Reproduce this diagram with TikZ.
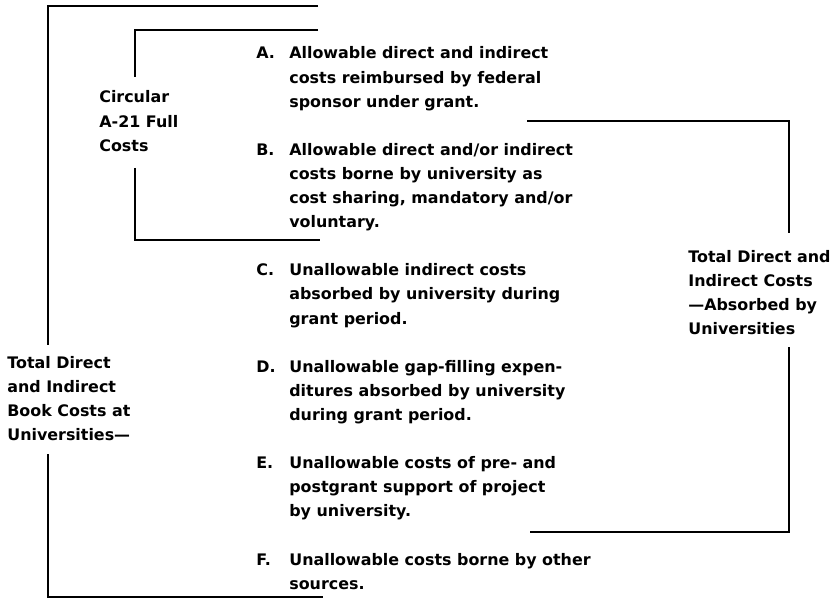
\documentclass[tikz,border=0pt]{standalone}
\usepackage{fontspec}
\setmainfont{DejaVu Sans}
\newcommand{\stack}[1]{\begin{tabular}[t]{@{}l@{}}#1\end{tabular}}

\begin{document}
\begin{tikzpicture}[x=0.02cm, y=-0.02cm, font=\fontsize{9.05}{13.7}\selectfont\bfseries]
    \tikzset{bracket/.style={line width=1.5pt},
             txt/.style={anchor=base west, inner sep=0pt}}
    \useasboundingbox (0,0) rectangle (839,608);

    % Outer bracket: book costs
    \draw[bracket] (318,6) -- (48,6) -- (48,345);
    \draw[bracket] (48,454) -- (48,597) -- (323,597);
    \node (book) [txt] at (7,368) {\stack{Total Direct\\and Indirect\\Book Costs at\\Universities—}};

    % Inner bracket: A-21 costs
    \draw[bracket] (318,30) -- (135,30) -- (135,77);
    \draw[bracket] (135,168) -- (135,240) -- (320,240);
    \node (circ) [txt] at (99,103) {\stack{Circular\\A-21 Full\\Costs}};

    % Right bracket: absorbed costs
    \draw[bracket] (527,121) -- (789,121) -- (789,233);
    \draw[bracket] (789,347) -- (789,532) -- (530,532);
    \node (absorb) [txt] at (688,262) {\stack{Total Direct and\\Indirect Costs\\—Absorbed by\\Universities}};

    % Item letters
    \foreach \lab/\yy in {A/59, B/155.4, C/275.9, D/372.3, E/468.7, F/565.1}
        \node (lab\lab) [txt] at (256,\yy) {\lab.};

    % Item texts
    \node (itemA) [txt] at (289,59) {\stack{Allowable direct and indirect\\costs reimbursed by federal\\sponsor under grant.}};
    \node (itemB) [txt] at (289,155.4) {\stack{Allowable direct and/or indirect\\costs borne by university as\\cost sharing, mandatory and/or\\voluntary.}};
    \node (itemC) [txt] at (289,275.9) {\stack{Unallowable indirect costs\\absorbed by university during\\grant period.}};
    \node (itemD) [txt] at (289,372.3) {\stack{Unallowable gap-filling expen-\\ditures absorbed by university\\during grant period.}};
    \node (itemE) [txt] at (289,468.7) {\stack{Unallowable costs of pre- and\\postgrant support of project\\by university.}};
    \node (itemF) [txt] at (289,565.1) {\stack{Unallowable costs borne by other\\sources.}};
\end{tikzpicture}
\end{document}
